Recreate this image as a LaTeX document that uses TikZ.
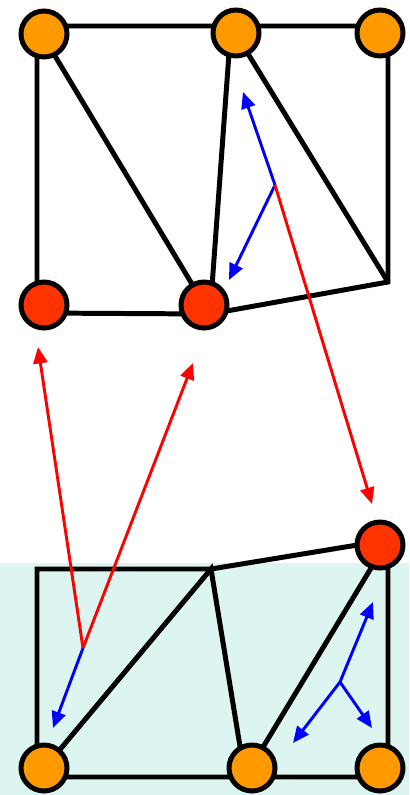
\documentclass[tikz,border=0pt]{standalone}
\usepackage{tikz}
\usetikzlibrary{arrows.meta}
\definecolor{vorange}{HTML}{FF9900}
\definecolor{vred}{HTML}{FF3300}
\definecolor{pale}{HTML}{DDF5F0}

\begin{document}
\begin{tikzpicture}[x=0.03cm,y=-0.03cm,
  meshline/.style={line width=4.25pt,line join=miter},
  vtx/.style={circle,draw=black,line width=4.25pt,minimum size=1.38cm,inner sep=0pt},
  vec/.style={line width=2.5pt,-{Triangle[length=14pt,width=12pt]}}]
\useasboundingbox (0,0) rectangle (409,795);
\fill[pale] (0,563) rectangle (409,795);
% upper mesh
\foreach \n/\p in {p1/{37,26},p2/{231,26},p3/{388,26},p4/{388,282},p5/{210,314},p6/{37,313}} {\coordinate (\n) at (\p);}
\draw[meshline] (p6)--(p1)--(p3)--(p4)--(p5)--cycle;
\draw[meshline] (p1)--(p5)--(p2)--(p4);
% lower mesh
\foreach \n/\p in {q1/{37,569},q2/{211,569},q3/{388,540},q4/{388,777},q5/{245,777},q6/{37,777}} {\coordinate (\n) at (\p);}
\draw[meshline] (q6)--(q1)--(q2)--(q3)--(q4)--cycle;
\draw[meshline] (q6)--(q2)--(q5)--(q3);
% vectors
\coordinate (o1) at (275,185);
\coordinate (o2) at (83,648);
\coordinate (o3) at (340,682);
\foreach \t in {{243,92},{229,280}} {\draw[vec,blue] (o1)--(\t);}
\draw[vec,red] (o1)--(372,504);
\foreach \t in {{38,347},{193,363}} {\draw[vec,red] (o2)--(\t);}
\draw[vec,blue] (o2)--(53,728);
\foreach \t in {{373,602},{293,743},{372,728}} {\draw[vec,blue] (o3)--(\t);}
% vertices
\foreach \n/\p in {a/{44,34},b/{236,33},c/{380,33},h/{44,768},i/{252,768},j/{380,768}} {\node[vtx,fill=vorange] (\n) at (\p) {};}
\foreach \n/\p in {d/{44,305},e/{204,305},g/{380,545}} {\node[vtx,fill=vred] (\n) at (\p) {};}
\end{tikzpicture}
\end{document}
